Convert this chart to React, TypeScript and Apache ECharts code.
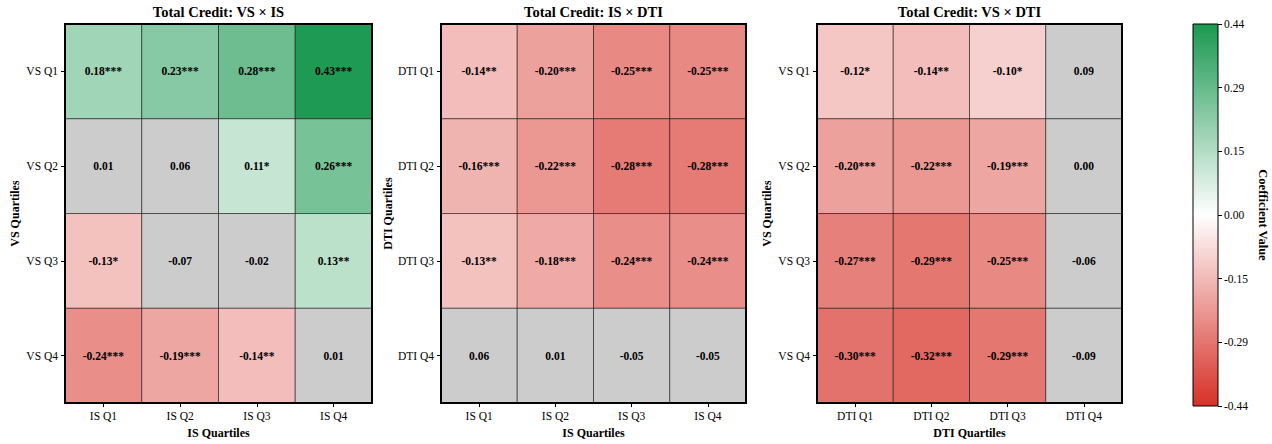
import React, { useEffect, useRef } from "react";
import * as echarts from "echarts";

// ---- Data ----
const vsLabels = ["VS Q1", "VS Q2", "VS Q3", "VS Q4"];
const isLabels = ["IS Q1", "IS Q2", "IS Q3", "IS Q4"];
const dtiLabels = ["DTI Q1", "DTI Q2", "DTI Q3", "DTI Q4"];

// rows = VS Q1..Q4, cols = IS Q1..Q4
const vsIsValues = [
  [0.18, 0.23, 0.28, 0.43],
  [0.01, 0.06, 0.11, 0.26],
  [-0.13, -0.07, -0.02, 0.13],
  [-0.24, -0.19, -0.14, 0.01],
];
const vsIsStars = [
  ["***", "***", "***", "***"],
  ["", "", "*", "***"],
  ["*", "", "", "**"],
  ["***", "***", "**", ""],
];

// rows = DTI Q1..Q4, cols = IS Q1..Q4
const isDtiValues = [
  [-0.14, -0.2, -0.25, -0.25],
  [-0.16, -0.22, -0.28, -0.28],
  [-0.13, -0.18, -0.24, -0.24],
  [0.06, 0.01, -0.05, -0.05],
];
const isDtiStars = [
  ["**", "***", "***", "***"],
  ["***", "***", "***", "***"],
  ["**", "***", "***", "***"],
  ["", "", "", ""],
];

// rows = VS Q1..Q4, cols = DTI Q1..Q4
const vsDtiValues = [
  [-0.12, -0.14, -0.1, 0.09],
  [-0.2, -0.22, -0.19, 0.0],
  [-0.27, -0.29, -0.25, -0.06],
  [-0.3, -0.32, -0.29, -0.09],
];
const vsDtiStars = [
  ["*", "**", "*", ""],
  ["***", "***", "***", ""],
  ["***", "***", "***", ""],
  ["***", "***", "***", ""],
];

const panelTitles = [
  "Total Credit: VS \u00d7 IS",
  "Total Credit: IS \u00d7 DTI",
  "Total Credit: VS \u00d7 DTI",
];
const colorMin = -0.44;
const colorMax = 0.44;
const colorbarTicksCount = 3; // ticks per half

// ---- Styles ----
const FONT = "'Liberation Serif', 'Times New Roman', serif";
const RED = [215, 48, 39];
const GREEN = [26, 152, 80];
const GREY = "#cccccc";

function mapColor(v: number): string {
  let t = v >= 0 ? v / colorMax : v / colorMin;
  t = Math.max(0, Math.min(1, t));
  const target = v >= 0 ? GREEN : RED;
  const c = target.map((k) => Math.round(255 + (k - 255) * t));
  return `rgb(${c[0]},${c[1]},${c[2]})`;
}

function fmt(v: number): string {
  if (Math.abs(v) < 1e-9) return "0.00";
  return v.toFixed(2);
}

const GRID_TOP = 24;
const GRID_H = 382;
const panelLayouts = [
  { left: 65, width: 307 },
  { left: 441, width: 305 },
  { left: 817, width: 305 },
];

function App() {
  const ref = useRef<HTMLDivElement>(null);
  useEffect(() => {
    if (!ref.current) return;
    const chart = echarts.init(ref.current, undefined, { renderer: "svg" });

    const panels = [
      { vals: vsIsValues, stars: vsIsStars, x: isLabels, y: vsLabels, xName: "IS Quartiles", yName: "VS Quartiles" },
      { vals: isDtiValues, stars: isDtiStars, x: isLabels, y: dtiLabels, xName: "IS Quartiles", yName: "DTI Quartiles" },
      { vals: vsDtiValues, stars: vsDtiStars, x: dtiLabels, y: vsLabels, xName: "DTI Quartiles", yName: "VS Quartiles" },
    ];

    const grids: any[] = [];
    const xAxes: any[] = [];
    const yAxes: any[] = [];
    const series: any[] = [];
    const titles: any[] = [];

    panels.forEach((p, i) => {
      const L = panelLayouts[i];
      grids.push({
        left: L.left,
        top: GRID_TOP,
        width: L.width,
        height: GRID_H,
        show: true,
        z: 10,
        backgroundColor: "transparent",
        borderColor: "#000",
        borderWidth: 2,
      });
      titles.push({
        text: panelTitles[i],
        left: L.left + L.width / 2,
        top: 4,
        padding: 0,
        textAlign: "center",
        textStyle: { fontFamily: FONT, fontWeight: "bold", fontSize: 14.5, color: "#000" },
      });
      xAxes.push({
        type: "category",
        gridIndex: i,
        data: p.x,
        position: "bottom",
        name: p.xName,
        nameLocation: "middle",
        nameGap: 22,
        nameTextStyle: { fontFamily: FONT, fontWeight: "bold", fontSize: 12, color: "#000" },
        axisLine: { show: false },
        axisTick: { show: true, alignWithLabel: true, length: 4, lineStyle: { color: "#000", width: 1 } },
        axisLabel: { fontFamily: FONT, fontSize: 11.5, color: "#000", margin: 7 },
        splitLine: { show: false },
      });
      yAxes.push({
        type: "category",
        gridIndex: i,
        data: p.y,
        inverse: true,
        name: p.yName,
        nameLocation: "middle",
        nameGap: 44,
        nameRotate: 90,
        nameTextStyle: { fontFamily: FONT, fontWeight: "bold", fontSize: 12, color: "#000" },
        axisLine: { show: false },
        axisTick: { show: true, alignWithLabel: true, length: 4, lineStyle: { color: "#000", width: 1 } },
        axisLabel: { fontFamily: FONT, fontSize: 11.5, color: "#000", margin: 7 },
        splitLine: { show: false },
      });
      const data: any[] = [];
      const fills: string[] = [];
      const texts: string[] = [];
      p.vals.forEach((row, r) => {
        row.forEach((v, c) => {
          const s = p.stars[r][c];
          data.push([c, r, v]);
          fills.push(s === "" ? GREY : mapColor(v));
          texts.push(fmt(v) + s);
        });
      });
      series.push({
        type: "custom",
        xAxisIndex: i,
        yAxisIndex: i,
        data,
        silent: true,
        renderItem: (params: any, api: any) => {
          const pt = api.coord([api.value(0), api.value(1)]);
          const sz = api.size([1, 1]);
          return {
            type: "rect",
            shape: { x: pt[0] - sz[0] / 2, y: pt[1] - sz[1] / 2, width: sz[0], height: sz[1] },
            style: { fill: fills[params.dataIndex], stroke: "rgba(0,0,0,0.65)", lineWidth: 0.8 },
            textContent: {
              style: {
                text: texts[params.dataIndex],
                fontFamily: FONT,
                fontWeight: "bold",
                fontSize: 11.5,
                fill: "#000",
              },
            },
            textConfig: { position: "inside" },
          };
        },
      });
    });

    // colorbar
    grids.push({
      left: 1193,
      top: GRID_TOP,
      width: 25,
      height: GRID_H,
      show: true,
      z: 10,
      backgroundColor: "transparent",
      borderColor: "#000",
      borderWidth: 1,
    });
    xAxes.push({
      type: "category",
      gridIndex: 3,
      data: [""],
      show: false,
    });
    const step = colorMax / colorbarTicksCount;
    yAxes.push({
      type: "value",
      gridIndex: 3,
      position: "right",
      min: colorMin,
      max: colorMax,
      interval: step,
      name: "Coefficient Value",
      nameLocation: "middle",
      nameRotate: -90,
      nameGap: 38,
      nameTextStyle: { fontFamily: FONT, fontWeight: "bold", fontSize: 12.5, color: "#000" },
      axisLine: { show: false },
      axisTick: { show: true, length: 4, lineStyle: { color: "#000", width: 1 } },
      axisLabel: {
        fontFamily: FONT,
        fontSize: 11.5,
        color: "#000",
        margin: 6,
        showMinLabel: true,
        showMaxLabel: true,
        formatter: (v: number) => fmt(Math.round(v * 100) / 100),
      },
      splitLine: { show: false },
    });
    series.push({
      type: "bar",
      xAxisIndex: 3,
      yAxisIndex: 3,
      data: [colorMax],
      barWidth: "100%",
      barGap: "-100%",
      silent: true,
      itemStyle: {
        color: new echarts.graphic.LinearGradient(0, 0, 0, 1, [
          { offset: 0, color: mapColor(colorMax) },
          { offset: 1, color: "#ffffff" },
        ]),
      },
    });
    series.push({
      type: "bar",
      xAxisIndex: 3,
      yAxisIndex: 3,
      data: [colorMin],
      barWidth: "100%",
      barGap: "-100%",
      silent: true,
      itemStyle: {
        color: new echarts.graphic.LinearGradient(0, 0, 0, 1, [
          { offset: 0, color: "#ffffff" },
          { offset: 1, color: mapColor(colorMin) },
        ]),
      },
    });

    chart.setOption({
      animation: false,
      backgroundColor: "#ffffff",
      title: titles,
      grid: grids,
      xAxis: xAxes,
      yAxis: yAxes,
      series,
    });
    return () => chart.dispose();
  }, []);

  return (
    <div
      ref={ref}
      style={{ position: "fixed", left: 0, top: 0, width: 1272, height: 444, background: "#fff" }}
    />
  );
}

export default App;
